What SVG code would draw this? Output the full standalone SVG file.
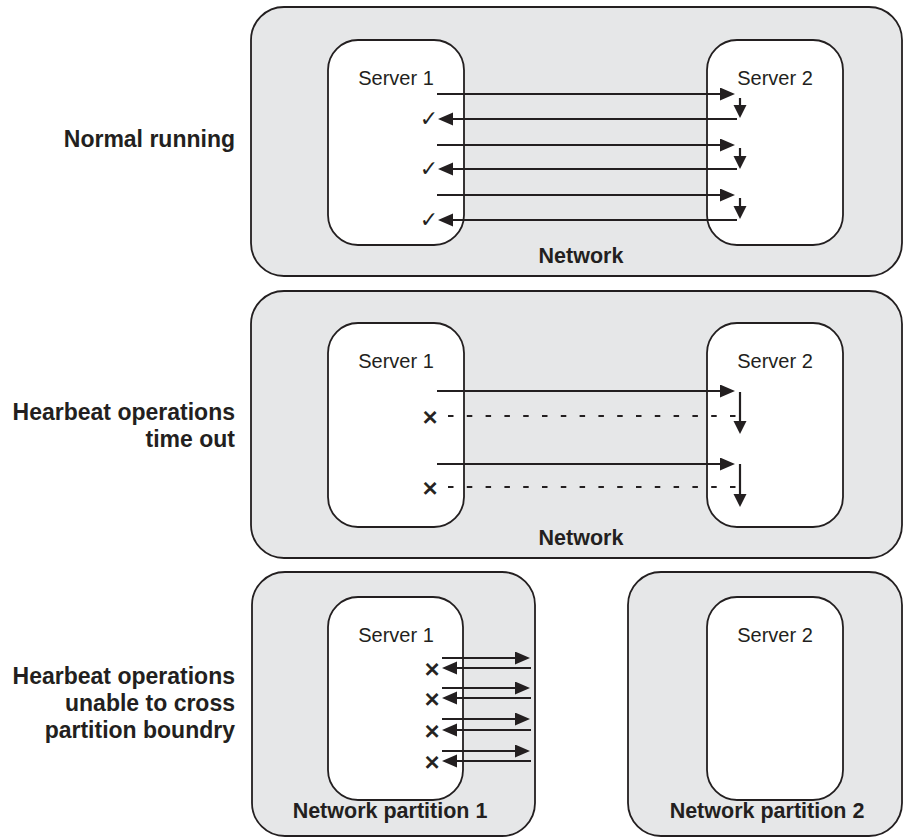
<svg xmlns="http://www.w3.org/2000/svg" width="903" height="837" viewBox="0 0 903 837">
<style>
.panel{fill:#e6e7e8;stroke:#231f20;stroke-width:1.8}
.server{fill:#ffffff;stroke:#231f20;stroke-width:1.8}
.srv{font-family:"Liberation Sans",Arial,sans-serif;font-size:20px;fill:#231f20;text-anchor:middle}
.net{font-family:"Liberation Sans",Arial,sans-serif;font-size:21.5px;font-weight:bold;fill:#231f20;text-anchor:middle}
.lbl{font-family:"Liberation Sans",Arial,sans-serif;font-size:23px;font-weight:bold;fill:#231f20;text-anchor:end}
.arr{stroke:#231f20;stroke-width:2.2;fill:none;marker-end:url(#ah)}
.darr{stroke:#231f20;stroke-width:2.2;fill:none;marker-end:url(#ahs)}
.dash{stroke:#231f20;stroke-width:2.2;fill:none;stroke-dasharray:5.5 13.3}
.chk{font-family:"DejaVu Sans",sans-serif;font-size:22px;fill:#231f20;text-anchor:middle}
.xm{font-family:"Liberation Sans",Arial,sans-serif;font-size:26px;fill:#231f20;stroke:#231f20;stroke-width:0.8;text-anchor:middle}
</style>
<defs>
<marker id="ah" markerUnits="userSpaceOnUse" markerWidth="16" markerHeight="14" refX="11" refY="6.5" orient="auto">
<path d="M0,0 L15,6.5 L0,13 z" fill="#231f20"/>
</marker>
<marker id="ahs" markerUnits="userSpaceOnUse" markerWidth="16" markerHeight="14" refX="10" refY="6.5" orient="auto">
<path d="M0,0 L13,6.5 L0,13 z" fill="#231f20"/>
</marker>
</defs>
<rect width="903" height="837" fill="#ffffff"/>

<!-- Panel 1 -->
<g id="network1">
<rect class="panel" x="251" y="7" width="651" height="269" rx="33"/>
<text class="net" x="581" y="263">Network</text>
</g>
<g id="p1-server1">
<rect class="server" x="328" y="40" width="136" height="205" rx="30"/>
<text class="srv" x="396" y="85">Server 1</text>
</g>
<g id="p1-server2">
<rect class="server" x="707" y="40" width="136" height="205" rx="30"/>
<text class="srv" x="775" y="85">Server 2</text>
</g>
<g id="label1"><text class="lbl" x="235" y="147">Normal running</text></g>

<!-- Panel 2 -->
<g id="network2">
<rect class="panel" x="251" y="291" width="651" height="267" rx="33"/>
<text class="net" x="581" y="545">Network</text>
</g>
<g id="p2-server1">
<rect class="server" x="328" y="323" width="136" height="204" rx="30"/>
<text class="srv" x="396" y="368">Server 1</text>
</g>
<g id="p2-server2">
<rect class="server" x="707" y="323" width="136" height="204" rx="30"/>
<text class="srv" x="775" y="368">Server 2</text>
</g>
<g id="label2"><text class="lbl" x="235" y="420">Hearbeat operations</text><text class="lbl" x="235" y="447">time out</text></g>

<!-- Panel 3 -->
<g id="partition1">
<rect class="panel" x="252" y="572" width="283" height="264" rx="33"/>
<text class="net" x="390" y="818">Network partition 1</text>
</g>
<g id="partition2">
<rect class="panel" x="628" y="572" width="274" height="264" rx="33"/>
<text class="net" x="767" y="818">Network partition 2</text>
</g>
<g id="p3-server1">
<rect class="server" x="328" y="597" width="135" height="203" rx="30"/>
<text class="srv" x="396" y="642">Server 1</text>
</g>
<g id="p3-server2">
<rect class="server" x="707" y="597" width="136" height="203" rx="30"/>
<text class="srv" x="775" y="642">Server 2</text>
</g>
<g id="label3"><text class="lbl" x="235" y="684">Hearbeat operations</text><text class="lbl" x="235" y="711">unable to cross</text><text class="lbl" x="235" y="738">partition boundry</text></g>

<g id="connectors">
<!-- panel 1 -->
<line class="arr" x1="437" y1="94" x2="731" y2="94"/>
<line class="arr" x1="737" y1="119" x2="442" y2="119"/>
<line class="darr" x1="740" y1="98" x2="740" y2="115"/>
<line class="arr" x1="437" y1="145" x2="731" y2="145"/>
<line class="arr" x1="737" y1="169" x2="442" y2="169"/>
<line class="darr" x1="740" y1="148" x2="740" y2="166"/>
<line class="arr" x1="437" y1="195" x2="731" y2="195"/>
<line class="arr" x1="737" y1="220" x2="442" y2="220"/>
<line class="darr" x1="740" y1="198" x2="740" y2="216"/>
<!-- panel 2 -->
<line class="arr" x1="437" y1="391" x2="731" y2="391"/>
<line class="dash" x1="448" y1="416" x2="738" y2="416"/>
<line class="darr" x1="740" y1="392" x2="740" y2="431"/>
<line class="arr" x1="437" y1="464" x2="731" y2="464"/>
<line class="dash" x1="448" y1="487" x2="738" y2="487"/>
<line class="darr" x1="740" y1="464" x2="740" y2="504"/>
<!-- panel 3 -->
<line class="arr" x1="442" y1="658" x2="526" y2="658"/>
<line class="arr" x1="531" y1="668" x2="446" y2="668"/>
<line class="arr" x1="442" y1="688" x2="526" y2="688"/>
<line class="arr" x1="531" y1="698" x2="446" y2="698"/>
<line class="arr" x1="442" y1="719" x2="526" y2="719"/>
<line class="arr" x1="531" y1="730" x2="446" y2="730"/>
<line class="arr" x1="442" y1="751" x2="526" y2="751"/>
<line class="arr" x1="531" y1="761" x2="446" y2="761"/>
</g>

<g id="marks">
<text class="chk" x="429" y="126">✓</text>
<text class="chk" x="429" y="176">✓</text>
<text class="chk" x="429" y="227">✓</text>
<text class="xm" x="430" y="426">×</text>
<text class="xm" x="430" y="497">×</text>
<text class="xm" x="432" y="678">×</text>
<text class="xm" x="432" y="708">×</text>
<text class="xm" x="432" y="740">×</text>
<text class="xm" x="432" y="771">×</text>
</g>
</svg>
